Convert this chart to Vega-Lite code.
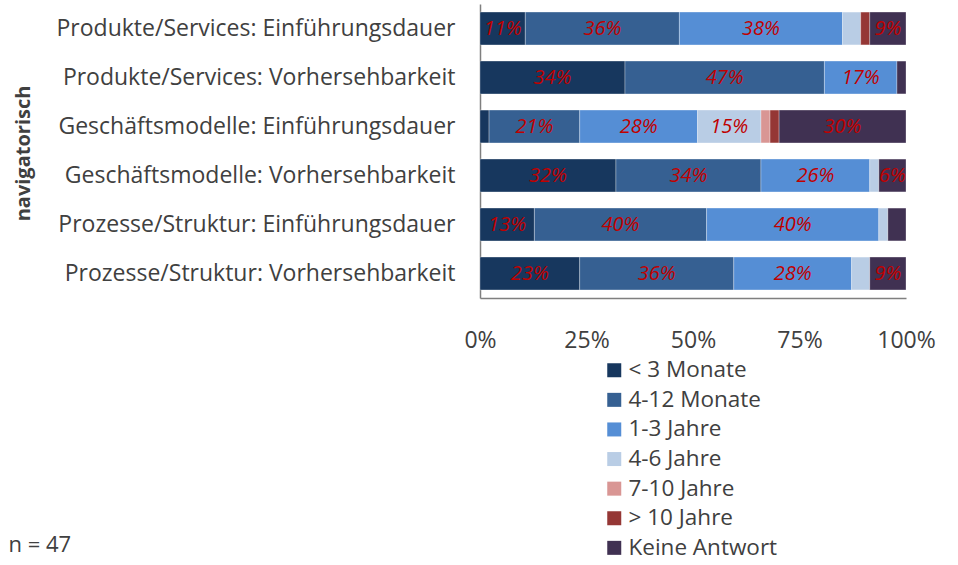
{
  "$schema": "https://vega.github.io/schema/vega-lite/v6.json",
  "width": 426,
  "height": 294,
  "autosize": {"type": "none"},
  "padding": {"left": 480, "top": 4, "right": 52, "bottom": 267},
  "background": "white",
  "config": {"view": {"stroke": null}, "font": "Open Sans"},
  "data": {"values": [
    {"q": "Produkte/Services: Einführungsdauer", "c": "< 3 Monate", "k": 1, "v": 0.1064},
    {"q": "Produkte/Services: Einführungsdauer", "c": "4-12 Monate", "k": 2, "v": 0.3617},
    {"q": "Produkte/Services: Einführungsdauer", "c": "1-3 Jahre", "k": 3, "v": 0.3830},
    {"q": "Produkte/Services: Einführungsdauer", "c": "4-6 Jahre", "k": 4, "v": 0.0426},
    {"q": "Produkte/Services: Einführungsdauer", "c": "> 10 Jahre", "k": 6, "v": 0.0213},
    {"q": "Produkte/Services: Einführungsdauer", "c": "Keine Antwort", "k": 7, "v": 0.0851},
    {"q": "Produkte/Services: Vorhersehbarkeit", "c": "< 3 Monate", "k": 1, "v": 0.3404},
    {"q": "Produkte/Services: Vorhersehbarkeit", "c": "4-12 Monate", "k": 2, "v": 0.4681},
    {"q": "Produkte/Services: Vorhersehbarkeit", "c": "1-3 Jahre", "k": 3, "v": 0.1702},
    {"q": "Produkte/Services: Vorhersehbarkeit", "c": "Keine Antwort", "k": 7, "v": 0.0213},
    {"q": "Geschäftsmodelle: Einführungsdauer", "c": "< 3 Monate", "k": 1, "v": 0.0213},
    {"q": "Geschäftsmodelle: Einführungsdauer", "c": "4-12 Monate", "k": 2, "v": 0.2128},
    {"q": "Geschäftsmodelle: Einführungsdauer", "c": "1-3 Jahre", "k": 3, "v": 0.2766},
    {"q": "Geschäftsmodelle: Einführungsdauer", "c": "4-6 Jahre", "k": 4, "v": 0.1489},
    {"q": "Geschäftsmodelle: Einführungsdauer", "c": "7-10 Jahre", "k": 5, "v": 0.0213},
    {"q": "Geschäftsmodelle: Einführungsdauer", "c": "> 10 Jahre", "k": 6, "v": 0.0213},
    {"q": "Geschäftsmodelle: Einführungsdauer", "c": "Keine Antwort", "k": 7, "v": 0.2979},
    {"q": "Geschäftsmodelle: Vorhersehbarkeit", "c": "< 3 Monate", "k": 1, "v": 0.3191},
    {"q": "Geschäftsmodelle: Vorhersehbarkeit", "c": "4-12 Monate", "k": 2, "v": 0.3404},
    {"q": "Geschäftsmodelle: Vorhersehbarkeit", "c": "1-3 Jahre", "k": 3, "v": 0.2553},
    {"q": "Geschäftsmodelle: Vorhersehbarkeit", "c": "4-6 Jahre", "k": 4, "v": 0.0213},
    {"q": "Geschäftsmodelle: Vorhersehbarkeit", "c": "Keine Antwort", "k": 7, "v": 0.0638},
    {"q": "Prozesse/Struktur: Einführungsdauer", "c": "< 3 Monate", "k": 1, "v": 0.1277},
    {"q": "Prozesse/Struktur: Einführungsdauer", "c": "4-12 Monate", "k": 2, "v": 0.4043},
    {"q": "Prozesse/Struktur: Einführungsdauer", "c": "1-3 Jahre", "k": 3, "v": 0.4043},
    {"q": "Prozesse/Struktur: Einführungsdauer", "c": "4-6 Jahre", "k": 4, "v": 0.0213},
    {"q": "Prozesse/Struktur: Einführungsdauer", "c": "Keine Antwort", "k": 7, "v": 0.0426},
    {"q": "Prozesse/Struktur: Vorhersehbarkeit", "c": "< 3 Monate", "k": 1, "v": 0.2340},
    {"q": "Prozesse/Struktur: Vorhersehbarkeit", "c": "4-12 Monate", "k": 2, "v": 0.3617},
    {"q": "Prozesse/Struktur: Vorhersehbarkeit", "c": "1-3 Jahre", "k": 3, "v": 0.2766},
    {"q": "Prozesse/Struktur: Vorhersehbarkeit", "c": "4-6 Jahre", "k": 4, "v": 0.0426},
    {"q": "Prozesse/Struktur: Vorhersehbarkeit", "c": "Keine Antwort", "k": 7, "v": 0.0851}
  ]},
  "transform": [
    {"stack": "v", "groupby": ["q"], "sort": [{"field": "k", "order": "ascending"}], "offset": "normalize", "as": ["x0", "x1"]}
  ],
  "encoding": {
    "y": {
      "field": "q", "type": "nominal",
      "sort": ["Produkte/Services: Einführungsdauer", "Produkte/Services: Vorhersehbarkeit", "Geschäftsmodelle: Einführungsdauer", "Geschäftsmodelle: Vorhersehbarkeit", "Prozesse/Struktur: Einführungsdauer", "Prozesse/Struktur: Vorhersehbarkeit"],
      "scale": {"paddingInner": 0.33, "paddingOuter": 0.165},
      "axis": {
        "title": "navigatorisch", "titleFontWeight": "bold", "titleFontSize": 20, "titleColor": "#404040",
        "titleX": -457, "titleY": 149, "titleAngle": 270, "titleAlign": "center", "titleBaseline": "middle",
        "labelFontSize": 23, "labelColor": "#404040", "labelPadding": 25, "labelLimit": 600,
        "ticks": false, "domainColor": "#7f7f7f", "domainWidth": 1.5
      }
    }
  },
  "layer": [
    {
      "mark": {"type": "bar", "stroke": "#ffffff", "strokeWidth": 0.6, "strokeOpacity": 0.5},
      "encoding": {
        "x": {
          "field": "x0", "type": "quantitative",
          "scale": {"domain": [0, 1], "nice": false},
          "axis": {
            "values": [0, 0.25, 0.5, 0.75, 1], "format": ".0%", "grid": false, "ticks": false,
            "labelFontSize": 23, "labelColor": "#404040", "labelPadding": 31, "labelFlush": false,
            "domainColor": "#7f7f7f", "domainWidth": 1.5,
            "title": "n = 47", "titleX": -472, "titleY": 253, "titleAlign": "left", "titleBaseline": "alphabetic",
            "titleFontSize": 22, "titleFontWeight": "normal", "titleColor": "#404040"
          }
        },
        "x2": {"field": "x1"},
        "color": {
          "field": "c", "type": "nominal",
          "scale": {
            "domain": ["< 3 Monate", "4-12 Monate", "1-3 Jahre", "4-6 Jahre", "7-10 Jahre", "> 10 Jahre", "Keine Antwort"],
            "range": ["#17375E", "#366092", "#558ED5", "#B9CDE5", "#D99694", "#953735", "#403152"]
          },
          "legend": {
            "orient": "none", "legendX": 123, "legendY": 355, "title": null, "padding": 0,
            "symbolType": "square", "symbolSize": 196, "symbolStrokeWidth": 0,
            "labelFontSize": 22.5, "labelColor": "#404040", "labelOffset": 3, "rowPadding": 6.6
          }
        }
      }
    },
    {
      "transform": [
        {"filter": "datum.v >= 0.05"},
        {"calculate": "(datum.x0 + datum.x1) / 2", "as": "xm"}
      ],
      "mark": {"type": "text", "fontStyle": "italic", "fontSize": 20, "color": "#C00000", "align": "center", "baseline": "middle"},
      "encoding": {
        "x": {"field": "xm", "type": "quantitative"},
        "text": {"field": "v", "type": "quantitative", "format": ".0%"}
      }
    }
  ]
}
